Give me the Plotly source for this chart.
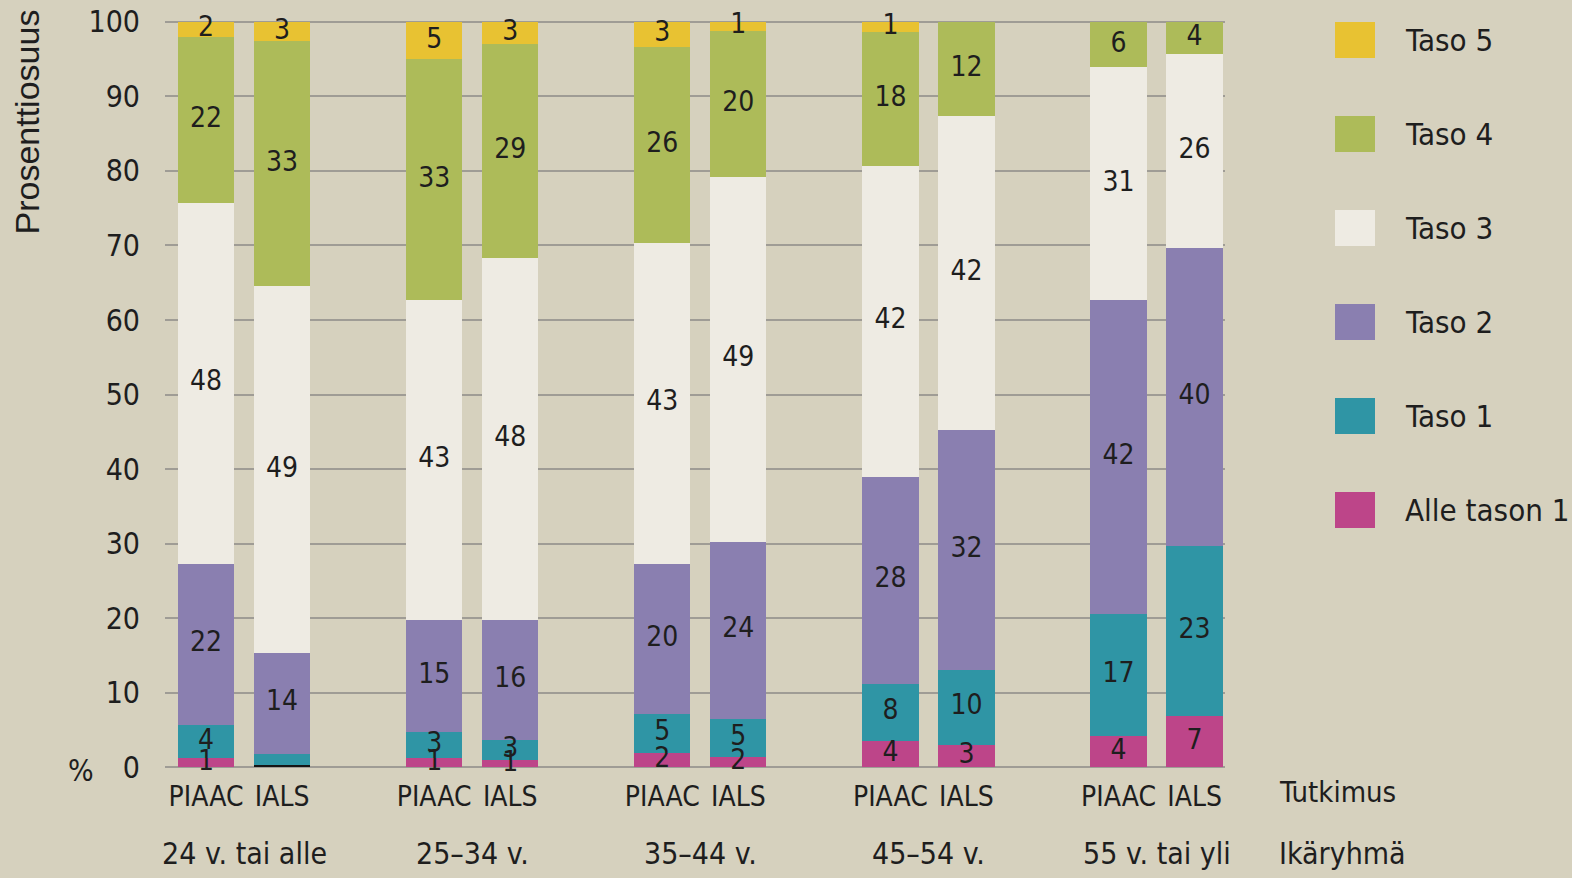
import numpy as np
import plotly.graph_objects as go

# ---- data ----
age_groups = ["24 v. tai alle", "25–34 v.", "35–44 v.", "45–54 v.", "55 v. tai yli"]
studies = ["PIAAC", "IALS"]
levels = ["Alle tason 1", "Taso 1", "Taso 2", "Taso 3", "Taso 4", "Taso 5"]

# bar order: 24 PIAAC, 24 IALS, 25-34 PIAAC, 25-34 IALS, ... (segment heights, %)
alle_tason_1 = [1.2, 0.3, 1.2, 0.9, 1.9, 1.4, 3.5, 3.0, 4.1, 6.8]
taso_1 = [4.4, 1.5, 3.5, 2.7, 5.2, 5.1, 7.7, 10.0, 16.5, 22.9]
taso_2 = [21.7, 13.5, 15.0, 16.1, 20.2, 23.7, 27.7, 32.3, 42.1, 40.0]
taso_3 = [48.4, 49.2, 43.0, 48.6, 43.0, 49.0, 41.8, 42.1, 31.2, 26.0]
taso_4 = [22.3, 32.9, 32.3, 28.8, 26.4, 19.6, 17.9, 12.6, 6.1, 4.3]
taso_5 = [2.0, 2.6, 5.0, 2.9, 3.3, 1.2, 1.4, 0.0, 0.0, 0.0]

# printed labels
lbl_alle = ["1", "", "1", "1", "2", "2", "4", "3", "4", "7"]
lbl_t1 = ["4", "", "3", "3", "5", "5", "8", "10", "17", "23"]
lbl_t2 = ["22", "14", "15", "16", "20", "24", "28", "32", "42", "40"]
lbl_t3 = ["48", "49", "43", "48", "43", "49", "42", "42", "31", "26"]
lbl_t4 = ["22", "33", "33", "29", "26", "20", "18", "12", "6", "4"]
lbl_t5 = ["2", "3", "5", "3", "3", "1", "1", "", "", ""]

y_ticks = [0, 10, 20, 30, 40, 50, 60, 70, 80, 90, 100]

# ---- styles ----
colors = ["#bd4589", "#2f95a5", "#8a7fb0", "#eeebe3", "#adbb59", "#e8c232"]
alle_bar_colors = ["#bd4589", "#151515"] + ["#bd4589"] * 8
bg = "#d6d1be"
grid = "#9f9c95"
txt = "#1e1e1e"
FONT = "DejaVu Sans Condensed, Liberation Sans Narrow, Arial Narrow, sans-serif"

series = [alle_tason_1, taso_1, taso_2, taso_3, taso_4, taso_5]
labels = [lbl_alle, lbl_t1, lbl_t2, lbl_t3, lbl_t4, lbl_t5]

# bar x positions: two bars per group, gap between groups
xpos = []
for g in range(len(age_groups)):
    for s in range(len(studies)):
        xpos.append(g * 3 + s)
xpos = np.array(xpos, dtype=float)

fig = go.Figure()
vals = np.array(series)
bases = np.vstack([np.zeros(vals.shape[1]), np.cumsum(vals, axis=0)[:-1]])

for i, name in enumerate(levels):
    mc = alle_bar_colors if i == 0 else colors[i]
    fig.add_trace(go.Bar(
        x=xpos, y=vals[i], base=bases[i], name=name, width=0.74,
        marker=dict(color=mc, line=dict(width=0)), showlegend=False,
        hoverinfo="skip"))

# segment labels
lx, ly, lt = [], [], []
for i in range(len(levels)):
    for j in range(len(xpos)):
        if labels[i][j]:
            lx.append(xpos[j])
            ly.append(bases[i][j] + vals[i][j] / 2)
            lt.append(labels[i][j])
fig.add_trace(go.Scatter(
    x=lx, y=ly, text=lt, mode="text", textposition="middle center",
    textfont=dict(family=FONT, size=28, color=txt), showlegend=False,
    cliponaxis=False, hoverinfo="skip"))

W, H = 1572, 878
left, right = 165, 1225
top, bottom = 19, 770
pw = right - left
ph = bottom - top

def px(xp):
    return (xp - left) / pw

def py(yp):
    return (bottom - yp) / ph

annotations = []
shapes = []
# age group labels
for g, name in enumerate(age_groups):
    annotations.append(dict(x=g * 3 + 0.5, xref="x", y=py(853), yref="paper",
                            text=name, showarrow=False, xanchor="center", yanchor="middle",
                            font=dict(family=FONT, size=30, color=txt)))
annotations.append(dict(x=px(1277), xref="paper", y=py(792), yref="paper", text="Tutkimus",
                        showarrow=False, xanchor="left", yanchor="middle",
                        font=dict(family=FONT, size=29, color=txt)))
annotations.append(dict(x=px(1277), xref="paper", y=py(853), yref="paper", text="Ikäryhmä",
                        showarrow=False, xanchor="left", yanchor="middle",
                        font=dict(family=FONT, size=30, color=txt)))
annotations.append(dict(x=px(81), xref="paper", y=py(770), yref="paper", text="%",
                        showarrow=False, xanchor="center", yanchor="middle",
                        font=dict(family=FONT, size=30, color=txt)))
annotations.append(dict(x=px(26), xref="paper", y=py(8), yref="paper", text="Prosenttiosuus",
                        showarrow=False, xanchor="center", yanchor="top", textangle=-90,
                        font=dict(family="Liberation Sans, Arial, sans-serif", size=34, color=txt)))

# legend (top = Taso 5)
for k, i in enumerate(reversed(range(len(levels)))):
    yc = 40 + k * 94
    shapes.append(dict(type="rect", xref="paper", yref="paper",
                       x0=px(1335), x1=px(1375), y0=py(yc - 18), y1=py(yc + 18),
                       fillcolor=colors[i], line=dict(width=0)))
    annotations.append(dict(x=px(1403), xref="paper", y=py(yc), yref="paper",
                            text=levels[i], showarrow=False, xanchor="left", yanchor="middle",
                            font=dict(family=FONT, size=31, color=txt)))

fig.update_layout(
    template="none",
    width=W, height=H,
    margin=dict(l=left, r=W - right, t=top, b=H - bottom, pad=0, autoexpand=False),
    paper_bgcolor=bg, plot_bgcolor=bg,
    barmode="overlay", bargap=0,
    showlegend=False,
    annotations=annotations, shapes=shapes,
    xaxis=dict(range=[-0.54, 13.4], tickmode="array", tickvals=list(xpos),
               ticktext=studies * len(age_groups), showgrid=False, zeroline=False,
               showline=False, automargin=False,
               ticks="outside", ticklen=1, tickcolor=bg,
               tickfont=dict(family=FONT, size=28, color=txt), fixedrange=True),
    yaxis=dict(range=[-0.4, 100.4], tickmode="array", tickvals=y_ticks,
               showgrid=True, gridcolor=grid, gridwidth=2, showline=False, automargin=False,
               zeroline=True, zerolinecolor=grid, zerolinewidth=2,
               ticks="outside", ticklen=18, tickcolor=bg,
               tickfont=dict(family=FONT, size=30, color=txt), fixedrange=True),
)

fig.write_html("out.html", config={"displayModeBar": False},
               post_script="document.body.style.margin='0';document.body.style.background='%s';" % bg)
